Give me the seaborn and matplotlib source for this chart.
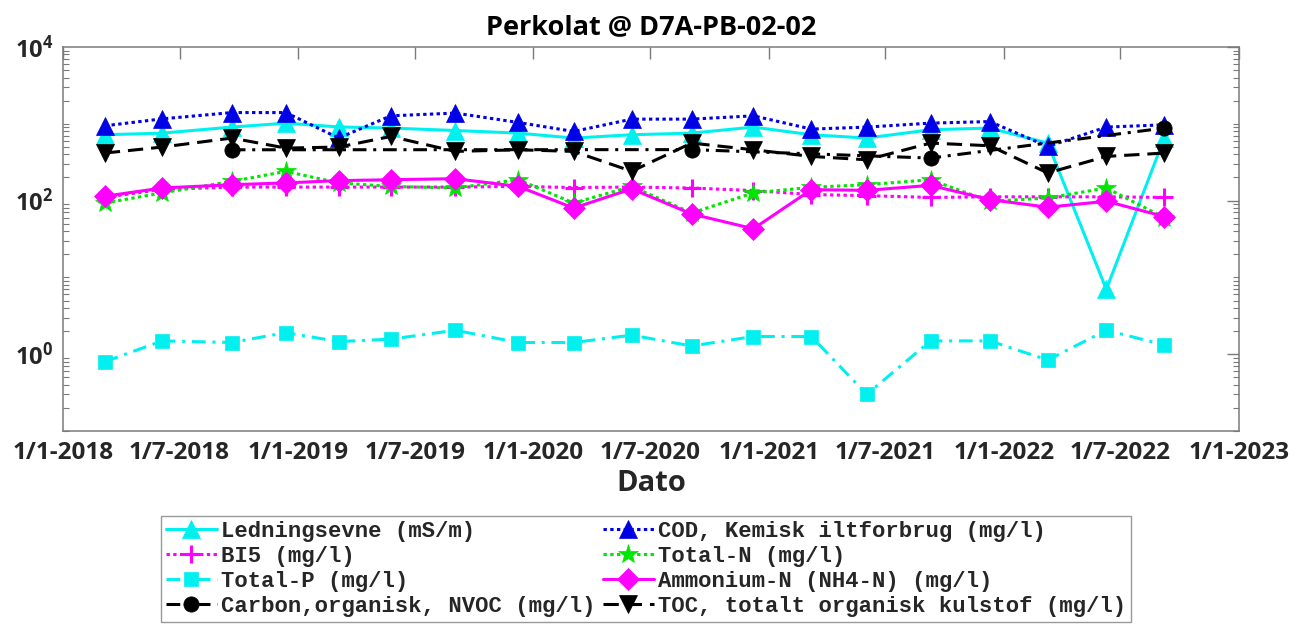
import matplotlib
matplotlib.use("Agg")
import matplotlib.pyplot as plt
import matplotlib.dates as mdates
import matplotlib.ticker as mticker
import numpy as np
import pandas as pd
import seaborn as sns

# Sampling dates (quarterly)
dates = pd.to_datetime([
    "2018-03-07", "2018-06-04", "2018-09-20", "2018-12-13", "2019-03-05",
    "2019-05-25", "2019-09-02", "2019-12-09", "2020-03-04", "2020-06-02",
    "2020-09-03", "2020-12-08", "2021-03-08", "2021-06-02", "2021-09-09",
    "2021-12-10", "2022-03-10", "2022-06-09", "2022-09-07",
])

ledningsevne = [720, 756, 906, 1020, 910, 880, 818, 756, 652, 720,
                756, 906, 720, 652, 836, 880, 561, 7.0, 652]
cod = [942, 1160, 1400, 1400, 652, 1270, 1380, 1040, 795, 1150,
       1150, 1270, 853, 906, 1020, 1070, 507, 906, 970]
bi5 = [110, 140, 150, 150, 150, 150, 150, 153, 148, 150,
       146, 135, 120, 116, 110, 112, 112, 112, 110]
total_n = [93, 126, 178, 240, 170, 153, 146, 187, 93, 153,
           69, 126, 149, 161, 187, 98, 108, 146, 60]
total_p = [0.80, 1.49, 1.42, 1.91, 1.46, 1.57, 2.05, 1.42, 1.42, 1.77,
           1.28, 1.70, 1.70, 0.30, 1.49, 1.49, 0.84, 2.05, 1.32]
ammonium_n = [114, 146, 161, 170, 182, 187, 193, 153, 80, 142,
              67, 43, 139, 136, 158, 103, 82, 98, 62]
nvoc_dates = pd.to_datetime(["2018-09-20", "2020-09-03", "2021-09-09", "2022-09-07"])
nvoc = [459, 461, 358, 880]
toc = [416, 498, 652, 483, 498, 684, 437, 459, 437, 241,
       561, 459, 376, 340, 561, 518, 229, 376, 416]

labels = [
    "Ledningsevne (mS/m)",
    "COD, Kemisk iltforbrug (mg/l)",
    "BI5 (mg/l)",
    "Total-N (mg/l)",
    "Total-P (mg/l)",
    "Ammonium-N (NH4-N) (mg/l)",
    "Carbon,organisk, NVOC (mg/l)",
    "TOC, totalt organisk kulstof (mg/l)",
]

sns.set_theme(style="white")
plt.rcParams["font.family"] = ["Open Sans", "DejaVu Sans"]
plt.rcParams["mathtext.fontset"] = "custom"
plt.rcParams["mathtext.rm"] = "Open Sans"
plt.rcParams["mathtext.bf"] = "Open Sans:bold"

TXT = "#262626"
AXC = "#7a7a7a"

fig = plt.figure(figsize=(12.98, 6.29), dpi=100)
ax = fig.add_axes([63 / 1298, 1 - 431 / 629, (1239 - 63) / 1298, (431 - 47) / 629])

dotted = (0, (1.1, 1.1))
dashed = (0, (5, 2.6))
dashdot = (0, (4.5, 2.2, 1.0, 2.2))

series = [
    (labels[0], dates, ledningsevne, "#00f0f0", "-", "^", 13),
    (labels[1], dates, cod, "#0000e6", dotted, "^", 13),
    (labels[2], dates, bi5, "#ff00ff", dotted, "+", 13),
    (labels[3], dates, total_n, "#00e600", dotted, "*", 15),
    (labels[4], dates, total_p, "#00f0f0", dashdot, "s", 10.5),
    (labels[5], dates, ammonium_n, "#ff00ff", "-", "D", 11),
    (labels[6], nvoc_dates, nvoc, "black", dashdot, "o", 11),
    (labels[7], dates, toc, "black", dashed, "v", 13),
]

for lab, xs, ys, col, ls, mk, ms in series:
    mew = 2.2 if mk == "+" else 0.5
    sns.lineplot(x=xs, y=ys, ax=ax, color=col, linestyle=ls, linewidth=2.2,
                 marker=mk, markersize=ms, markeredgewidth=mew,
                 markeredgecolor=col, markerfacecolor=col, label=lab,
                 legend=False)

ax.set_yscale("log")
ax.set_ylim(0.1, 1e4)
ax.set_xlim(pd.Timestamp("2018-01-01"), pd.Timestamp("2023-01-01"))

ax.yaxis.set_major_locator(mticker.FixedLocator([1, 100, 10000]))
ax.yaxis.set_minor_locator(mticker.LogLocator(base=10, subs=np.arange(1, 10), numticks=100))
ax.yaxis.set_major_formatter(mticker.FuncFormatter(
    lambda v, p: r"$\mathbf{10^{%d}}$" % int(round(np.log10(v)))))
ax.yaxis.set_minor_formatter(mticker.NullFormatter())

xt = []
for yr in range(2018, 2023):
    xt.append(pd.Timestamp(f"{yr}-01-01"))
    xt.append(pd.Timestamp(f"{yr}-07-01"))
xt.append(pd.Timestamp("2023-01-01"))
ax.set_xticks(mdates.date2num(xt))
ax.set_xticklabels([f"{d.day}/{d.month}-{d.year}" for d in xt])
ax.xaxis.set_minor_locator(mticker.NullLocator())

ax.tick_params(axis="both", which="major", direction="in", length=8.5, width=1,
               color=AXC, top=True, right=True, labelcolor=TXT, pad=7)
ax.tick_params(axis="y", which="minor", direction="in", length=4.3, width=0.8,
               color=AXC, left=True, right=True)
for t in ax.get_xticklabels():
    t.set_fontsize(17.5)
    t.set_fontweight("bold")
for t in ax.get_yticklabels():
    t.set_fontsize(17)

for s in ax.spines.values():
    s.set_color(AXC)
    s.set_linewidth(1.1)
    s.set_visible(True)

ax.set_title("Perkolat @ D7A-PB-02-02", fontsize=19.5, fontweight="bold",
             color="black", pad=9)
ax.set_xlabel("Dato", fontsize=21, fontweight="bold", color=TXT, labelpad=3)
ax.set_ylabel("")

handles, hlabels = ax.get_legend_handles_labels()
order = [0, 2, 4, 6, 1, 3, 5, 7]
leg = fig.legend([handles[i] for i in order], [hlabels[i] for i in order],
                 loc="upper center", bbox_to_anchor=(646 / 1298, 1 - 516 / 629),
                 ncol=2, frameon=True, fancybox=False, edgecolor="#808080",
                 prop={"family": "Liberation Mono", "weight": "bold", "size": 16},
                 handlelength=2.3, handletextpad=0.2, columnspacing=0.3,
                 labelspacing=0.18, borderpad=0.22, borderaxespad=0)
leg.get_frame().set_linewidth(1.0)
for t in leg.get_texts():
    t.set_color(TXT)

fig.savefig("out.png", dpi=100, facecolor="white")
